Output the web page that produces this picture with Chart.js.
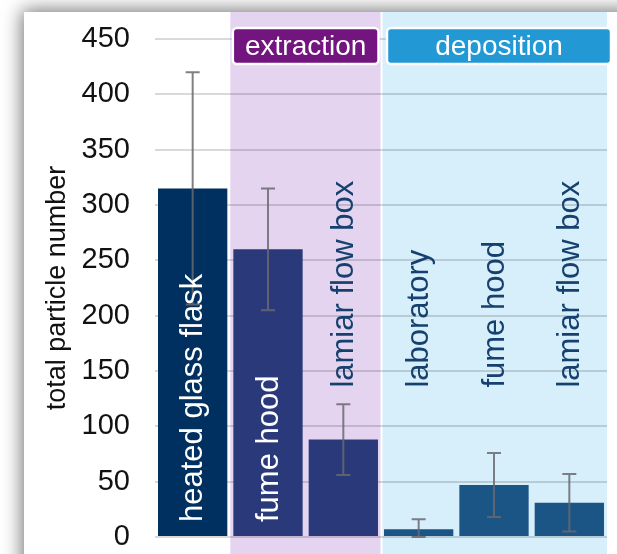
<!DOCTYPE html>
<html>
<head>
<meta charset="utf-8">
<script src="https://cdn.jsdelivr.net/npm/chart.js@4"></script>
<style>
    html, body { margin: 0; padding: 0; background: #fff; overflow: hidden; }
    #panel {
        position: absolute; left: 24px; top: 12px;
        width: 700px; height: 700px;
        background: #fff;
        box-shadow: 0 0 18px 2px rgba(0, 0, 0, 0.55);
    }
    #wrap { position: absolute; left: 0; top: 0; width: 617px; height: 554px; }
</style>
</head>
<body>
<div id="panel"></div>
<div id="wrap"><canvas id="chartParticles"></canvas></div>
<script>
// ===== DATA =====
const categories = ['heated glass flask', 'fume hood', 'lamiar flow box', 'laboratory', 'fume hood', 'lamiar flow box'];
const particleCount = [315, 260, 88, 7, 47, 31];
const particleError = [105, 55, 32, 9, 29, 26];
const barColors = ['#00305F', '#2A397A', '#2A397A', '#1B5586', '#1B5586', '#1B5586'];

const groupNames = ['extraction', 'deposition'];
const groupFirst = [1, 3];
const groupLast = [2, 5];
const groupFill = ['#E4D4F0', '#D6EFFB'];
const groupBadge = ['#72157E', '#2298D5'];

const yMin = 0;
const yMax = 450;
const yStep = 50;

const FONT = '"Liberation Sans", Arial, sans-serif';

// kéo biên nhóm từ trục x
function groupSpan(chart, g) {
    const x = chart.scales.x;
    const half = (x.getPixelForValue(1) - x.getPixelForValue(0)) / 2;
    return {
        left: x.getPixelForValue(groupFirst[g]) - half,
        right: x.getPixelForValue(groupLast[g]) + half
    };
}

// nền tím / xanh cho từng nhóm
const groupBackground = {
    id: 'groupBackground',
    beforeDraw(chart) {
        const { ctx, chartArea, height } = chart;
        ctx.save();
        groupNames.forEach((name, g) => {
            const s = groupSpan(chart, g);
            const left = g === 0 ? s.left : s.left + 1.5;
            const right = g === 0 ? s.right - 0.5 : chartArea.right;
            ctx.fillStyle = groupFill[g];
            ctx.fillRect(left, 12, right - left, height - 12);
        });
        ctx.restore();
    }
};

// thanh sai số + nhãn dọc
const barExtras = {
    id: 'barExtras',
    afterDatasetsDraw(chart) {
        const { ctx } = chart;
        const y = chart.scales.y;
        const meta = chart.getDatasetMeta(0);
        ctx.save();

        ctx.strokeStyle = 'rgba(105, 105, 110, 0.85)';
        ctx.lineWidth = 2;
        meta.data.forEach((bar, i) => {
            const top = y.getPixelForValue(particleCount[i] + particleError[i]);
            const bot = y.getPixelForValue(Math.max(0, particleCount[i] - particleError[i]));
            ctx.beginPath();
            ctx.moveTo(bar.x, top); ctx.lineTo(bar.x, bot);
            ctx.moveTo(bar.x - 7, top); ctx.lineTo(bar.x + 7, top);
            ctx.moveTo(bar.x - 7, bot); ctx.lineTo(bar.x + 7, bot);
            ctx.stroke();
        });

        ctx.font = '31px ' + FONT;
        ctx.textAlign = 'left';
        ctx.textBaseline = 'middle';
        const level = y.getPixelForValue(135);
        meta.data.forEach((bar, i) => {
            const inside = particleCount[i] > 200;
            ctx.save();
            ctx.translate(bar.x, inside ? y.getPixelForValue(0) - 15 : level);
            ctx.rotate(-Math.PI / 2);
            ctx.fillStyle = inside ? '#ffffff' : '#16406E';
            ctx.fillText(categories[i], 0, 1);
            ctx.restore();
        });
        ctx.restore();
    }
};

// nhãn nhóm ở đầu biểu đồ
const groupBadges = {
    id: 'groupBadges',
    afterDraw(chart) {
        const { ctx, chartArea } = chart;
        ctx.save();
        groupNames.forEach((name, g) => {
            const s = groupSpan(chart, g);
            const left = g === 0 ? s.left + 2.5 : s.left + 6;
            const right = g === 0 ? s.right - 2.5 : chartArea.right + 4;
            const top = 28, h = 36;
            ctx.beginPath();
            ctx.roundRect(left, top, right - left, h, 4);
            ctx.fillStyle = groupBadge[g];
            ctx.fill();
            ctx.lineWidth = 2.5;
            ctx.strokeStyle = '#ffffff';
            ctx.stroke();

            ctx.fillStyle = '#ffffff';
            ctx.font = '28px ' + FONT;
            ctx.textAlign = 'center';
            ctx.textBaseline = 'middle';
            ctx.fillText(name, (left + right) / 2, top + h / 2 + 1);
        });
        ctx.restore();
    }
};

new Chart(document.getElementById('chartParticles'), {
    type: 'bar',
    data: {
        labels: categories,
        datasets: [{
            data: particleCount,
            backgroundColor: barColors,
            borderWidth: 0,
            categoryPercentage: 1,
            barPercentage: 0.92
        }]
    },
    options: {
        responsive: true,
        maintainAspectRatio: false,
        animation: false,
        layout: { padding: { top: 39, right: 10, bottom: 17, left: 0 } },
        plugins: {
            legend: { display: false },
            tooltip: { enabled: false }
        },
        scales: {
            x: { display: false },
            y: {
                min: yMin,
                max: yMax,
                afterFit(scale) {
                    scale.width = 155;
                    // bỏ phần đệm trên/dưới do padding của nhãn
                    scale.paddingTop = 0;
                    scale.paddingBottom = 0;
                },
                ticks: {
                    stepSize: yStep,
                    padding: 25,
                    color: '#111',
                    font: { family: FONT, size: 29 }
                },
                grid: {
                    color: 'rgba(0, 0, 0, 0.15)',
                    lineWidth: 2,
                    drawTicks: false
                },
                border: { display: false },
                title: {
                    display: true,
                    text: 'total particle number',
                    color: '#111',
                    font: { family: FONT, size: 27 },
                    padding: { top: 41, bottom: 0 }
                }
            }
        }
    },
    plugins: [groupBackground, barExtras, groupBadges]
});
</script>
</body>
</html>
